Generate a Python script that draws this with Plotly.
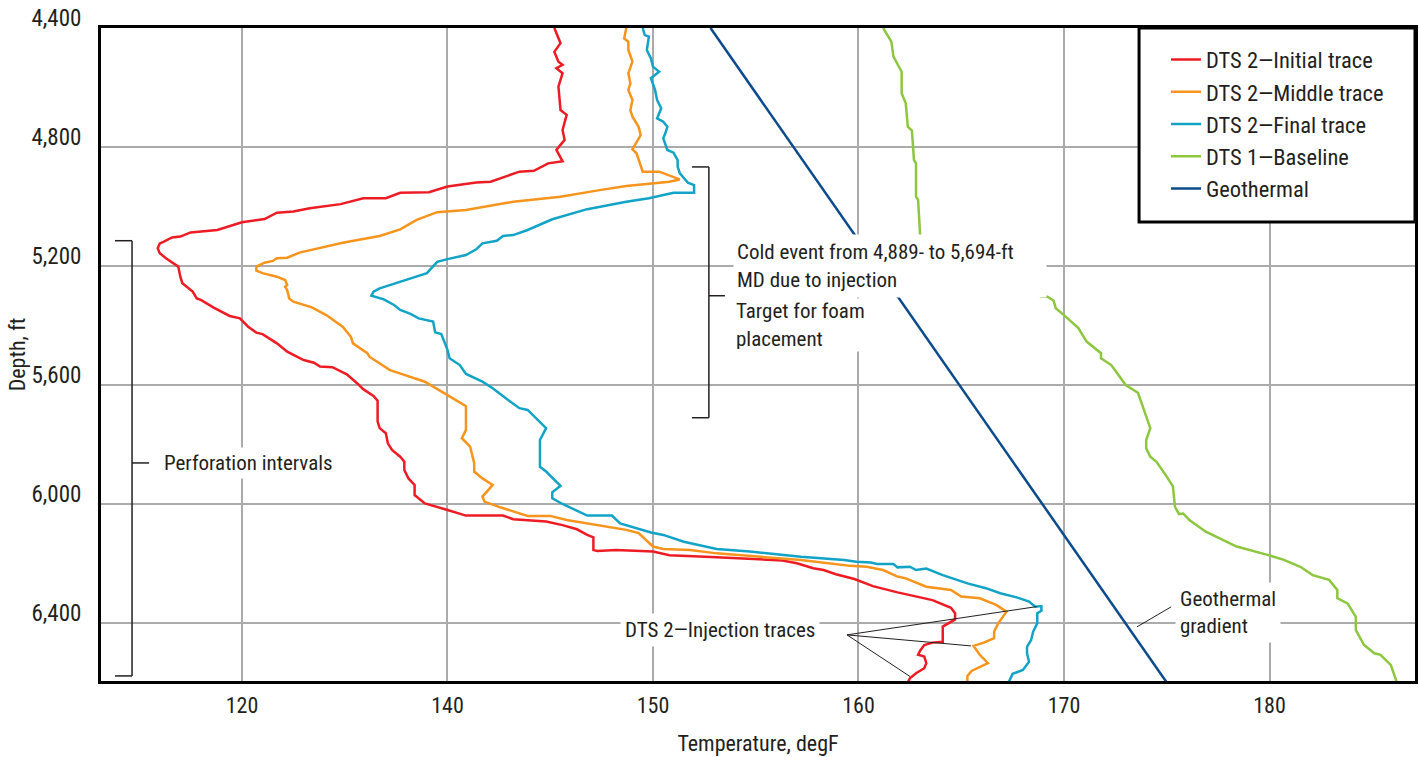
import plotly.graph_objects as go

# ---------------- data ----------------
x_tickvals = [130, 140, 150, 160, 170, 180]
x_ticktext = ["120", "140", "150", "160", "170", "180"]
y_tickvals = [4400, 4800, 5200, 5600, 6000, 6400]

initial_temp = [145.2, 145.5, 145.2, 145.4, 145.6, 145.3, 145.6, 145.4, 145.5, 145.8, 145.6, 145.7,
                145.3, 145.6, 144.9, 144.2, 143.5, 142.1, 141.4, 140.0, 139.1, 137.7, 137.0, 135.9,
                134.8, 133.3, 132.5, 131.7, 131.1, 130.0, 128.8, 127.5, 127.0, 126.6, 126.2, 126.0,
                125.9, 126.0, 126.3, 126.7, 126.9, 127.0, 127.1, 127.6, 127.8, 128.0, 128.6, 129.4,
                129.9, 130.3, 130.7, 131.0, 131.7, 132.2, 133.0, 133.5, 133.8, 134.4, 135.1, 135.6,
                135.9, 136.4, 136.6, 136.6, 136.7, 137.0, 137.1, 137.3, 137.7, 137.9, 137.9, 138.1,
                138.4, 138.4, 138.9, 140.0, 140.9, 142.7, 143.2, 144.8, 145.6, 146.3, 146.8, 147.1,
                147.1, 147.3, 148.2, 150.0, 150.8, 153.1, 156.3, 157.0, 157.8, 158.3, 158.9, 159.8,
                160.7, 161.9, 163.0, 163.6, 164.5, 164.7, 164.7, 164.4, 164.1, 164.1, 164.1, 163.6,
                163.2, 163.0, 162.9, 163.2, 163.3, 163.2, 162.8, 162.5, 162.4]
initial_depth = [4400, 4451, 4480, 4513, 4524, 4535, 4552, 4597, 4676, 4692, 4743, 4776,
                 4810, 4848, 4855, 4880, 4883, 4917, 4919, 4933, 4952, 4954, 4972, 4972,
                 4992, 5006, 5017, 5021, 5042, 5053, 5079, 5087, 5101, 5104, 5118, 5124,
                 5140, 5157, 5174, 5191, 5202, 5236, 5258, 5286, 5309, 5314, 5339, 5368,
                 5376, 5404, 5424, 5429, 5460, 5488, 5516, 5525, 5538, 5540, 5564, 5594,
                 5614, 5637, 5653, 5723, 5745, 5762, 5796, 5818, 5841, 5858, 5886, 5914,
                 5936, 5970, 5998, 6020, 6039, 6039, 6051, 6059, 6071, 6085, 6104, 6112,
                 6155, 6158, 6155, 6160, 6172, 6179, 6190, 6199, 6216, 6222, 6236, 6252,
                 6276, 6297, 6314, 6323, 6349, 6367, 6388, 6401, 6412, 6435, 6463, 6466,
                 6474, 6493, 6507, 6513, 6535, 6552, 6569, 6586, 6600]

middle_temp = [148.7, 148.6, 148.8, 148.8, 149.0, 148.8, 148.9, 148.8, 149.0, 148.9, 149.0, 149.3,
               149.4, 149.2, 149.0, 149.2, 149.5, 150.3, 151.3, 150.8, 148.7, 147.4, 145.5, 143.2,
               140.9, 139.5, 138.5, 137.7, 136.7, 134.9, 133.6, 132.8, 132.2, 131.7, 131.5, 131.1,
               130.7, 130.7, 131.0, 131.7, 132.1, 132.2, 132.1, 132.2, 132.3, 132.5, 133.4, 134.1,
               134.9, 135.3, 135.4, 136.1, 136.2, 137.2, 137.9, 138.9, 140.0, 140.9, 140.9, 140.7,
               141.1, 141.3, 141.3, 141.7, 142.2, 141.7, 141.8, 142.6, 143.9, 145.0, 145.8, 148.7,
               149.3, 150.0, 150.5, 151.8, 153.1, 155.4, 157.2, 159.6, 160.4, 161.2, 161.9, 162.3,
               163.3, 164.5, 165.0, 165.9, 166.7, 167.2, 166.8, 166.6, 166.6, 166.1, 165.6, 165.9,
               166.3, 165.5, 165.3, 165.3]
middle_depth = [4400, 4435, 4446, 4474, 4513, 4552, 4586, 4608, 4642, 4676, 4698, 4732,
                4760, 4782, 4808, 4821, 4883, 4883, 4909, 4917, 4931, 4945, 4967, 4984,
                5012, 5019, 5045, 5077, 5099, 5122, 5144, 5155, 5172, 5174, 5183, 5189,
                5202, 5216, 5224, 5236, 5247, 5264, 5270, 5281, 5309, 5320, 5339, 5365,
                5404, 5438, 5460, 5493, 5505, 5550, 5566, 5589, 5634, 5671, 5751, 5779,
                5807, 5863, 5891, 5914, 5936, 5975, 5992, 6012, 6040, 6040, 6054, 6087,
                6098, 6143, 6151, 6155, 6166, 6177, 6188, 6208, 6211, 6222, 6244, 6250,
                6278, 6289, 6311, 6317, 6339, 6362, 6401, 6429, 6451, 6466, 6477, 6507,
                6535, 6561, 6578, 6600]

final_temp = [149.5, 149.6, 149.8, 149.7, 149.9, 150.0, 150.3, 149.9, 150.1, 150.2, 150.4, 150.2,
              150.5, 150.7, 150.6, 150.5, 150.7, 151.0, 151.2, 151.2, 151.3, 151.7, 152.0, 152.0,
              151.0, 149.8, 148.7, 146.8, 145.1, 143.9, 143.2, 142.7, 142.4, 141.7, 141.4, 140.9,
              140.0, 139.5, 139.0, 137.7, 136.7, 136.4, 136.3, 136.9, 137.4, 137.7, 138.2, 138.6,
              139.3, 139.4, 139.7, 140.0, 140.1, 140.6, 140.9, 141.7, 142.2, 143.0, 143.5, 143.9,
              144.5, 144.8, 144.5, 144.5, 144.8, 145.5, 145.1, 145.1, 145.6, 146.8, 148.0, 148.4,
              149.9, 150.5, 151.5, 153.1, 154.7, 157.2, 159.3, 159.9, 160.6, 160.9, 161.7, 161.9,
              162.5, 162.8, 163.3, 164.1, 165.3, 166.2, 166.9, 167.7, 168.3, 168.6, 168.9, 168.9,
              168.7, 168.7, 168.5, 168.4, 168.2, 168.2, 168.3, 168.0, 167.5, 167.3]
final_depth = [4400, 4424, 4429, 4474, 4502, 4530, 4547, 4569, 4608, 4642, 4670, 4704,
               4715, 4732, 4754, 4771, 4810, 4819, 4844, 4866, 4888, 4920, 4928, 4954,
               4954, 4972, 4984, 5009, 5043, 5079, 5096, 5099, 5115, 5124, 5144, 5163,
               5177, 5186, 5224, 5254, 5275, 5286, 5300, 5312, 5331, 5348, 5361, 5376,
               5387, 5423, 5429, 5482, 5510, 5533, 5563, 5589, 5611, 5653, 5678, 5684,
               5723, 5745, 5785, 5875, 5891, 5939, 5961, 5981, 6000, 6039, 6039, 6065,
               6096, 6104, 6127, 6151, 6160, 6177, 6188, 6194, 6197, 6202, 6202, 6213,
               6211, 6222, 6217, 6239, 6267, 6283, 6300, 6314, 6328, 6345, 6343, 6359,
               6367, 6401, 6429, 6457, 6480, 6502, 6530, 6558, 6571, 6600]

baseline_temp = [161.2, 161.6, 161.7, 162.1, 162.1, 162.3, 162.4, 162.6, 162.7, 162.8, 162.8, 162.9,
                 163.0, 163.0, 168.9, 169.2, 169.5, 169.6, 170.0, 170.7, 171.1, 171.6, 171.8, 171.8,
                 172.3, 172.6, 173.0, 173.6, 174.1, 174.2, 174.0, 174.0, 174.2, 174.5, 175.0, 175.3,
                 175.4, 175.6, 175.8, 176.1, 176.9, 178.4, 179.9, 180.7, 181.5, 182.1, 182.9, 183.3,
                 183.3, 183.8, 184.2, 184.2, 184.6, 185.1, 185.4, 185.9, 186.2]
baseline_depth = [4400, 4446, 4496, 4547, 4619, 4653, 4732, 4745, 4844, 4855, 4967, 4978,
                  5096, 5113, 5303, 5303, 5317, 5342, 5365, 5409, 5454, 5482, 5493, 5510,
                  5533, 5561, 5600, 5626, 5723, 5745, 5785, 5813, 5841, 5858, 5908, 5941,
                  6010, 6034, 6032, 6054, 6093, 6143, 6171, 6188, 6211, 6239, 6255, 6289,
                  6317, 6334, 6379, 6423, 6474, 6502, 6507, 6541, 6600]

geothermal_temp = [152.8, 175.0]
geothermal_depth = [4400, 6600]

# ---------------- styling ----------------
FONT = "Liberation Sans Narrow, Arial Narrow, Roboto Condensed, Liberation Sans, sans-serif"
INK = "#231f20"
GRID = "#ababab"

series = [
    ("DTS 2\u2014Initial trace", initial_temp, initial_depth, "#ed1c24"),
    ("DTS 2\u2014Middle trace", middle_temp, middle_depth, "#f7941d"),
    ("DTS 2\u2014Final trace", final_temp, final_depth, "#12a3c6"),
    ("DTS 1\u2014Baseline", baseline_temp, baseline_depth, "#8dc63f"),
    ("Geothermal", geothermal_temp, geothermal_depth, "#0b4a8b"),
]

fig = go.Figure()
for i, (name, t, d, col) in enumerate(series):
    fig.add_trace(go.Scatter(x=t, y=d, mode="lines", name=name, legendgroup=f"g{i}",
                             line=dict(color=col, width=2.5), hoverinfo="skip"))

fig.update_layout(
    width=1419, height=757,
    margin=dict(l=101, r=4, t=28, b=76, autoexpand=False),
    paper_bgcolor="white", plot_bgcolor="white",
    font=dict(family=FONT, color=INK, size=20),
    showlegend=True,
    legend=dict(x=0.8105, y=0.984, xanchor="left", yanchor="top",
                bgcolor="rgba(0,0,0,0)", borderwidth=0,
                font=dict(family=FONT, size=22.5, color=INK),
                tracegroupgap=0, itemwidth=30),
)

fig.update_xaxes(
    range=[123.14, 187.08], tickvals=x_tickvals, ticktext=x_ticktext,
    showgrid=True, gridcolor=GRID, gridwidth=1.5, zeroline=False,
    showline=True, linecolor="black", linewidth=3, mirror=True, automargin=False,
    ticks="", ticklabelstandoff=3,
    tickfont=dict(family=FONT, size=22, color=INK),
    title=dict(text="Temperature, degF", font=dict(family=FONT, size=22, color=INK), standoff=19),
)
fig.update_yaxes(
    range=[6595, 4400], tickvals=y_tickvals, tickformat=",",
    showgrid=True, gridcolor=GRID, gridwidth=1.5, zeroline=False,
    showline=True, linecolor="black", linewidth=3, mirror=True, automargin=False,
    ticks="", ticklabelstandoff=12, ticklabelshift=10,
    tickfont=dict(family=FONT, size=23, color=INK),
    title=dict(text="Depth, ft", font=dict(family=FONT, size=22, color=INK), standoff=0),
)

# legend frame
fig.add_shape(type="rect", xref="paper", yref="paper", x0=0.790, x1=1.0, y0=0.703, y1=1.0,
              line=dict(color="black", width=3), fillcolor="white", layer="above")

def seg(x0, y0, x1, y1, w=1.5):
    fig.add_shape(type="line", xref="x", yref="y", x0=x0, y0=y0, x1=x1, y1=y1,
                  line=dict(color=INK, width=w), layer="above")

# perforation bracket
seg(124.65, 5115, 124.65, 6578)
seg(123.82, 5115, 124.65, 5115)
seg(123.82, 6578, 124.65, 6578)
seg(124.65, 5862, 125.48, 5862)
# cold event bracket
seg(152.72, 4867, 152.72, 5710)
seg(151.90, 4867, 152.72, 4867)
seg(151.90, 5710, 152.72, 5710)
seg(152.72, 5300, 153.50, 5300)
# leaders
seg(173.55, 6413, 175.21, 6346, 1)
seg(159.44, 6440, 168.67, 6345, 1)
seg(159.44, 6440, 165.47, 6477, 1)
seg(159.44, 6440, 162.51, 6580, 1)

def note(text, x, y, **kw):
    fig.add_annotation(text=text, x=x, y=y, xref="x", yref="y", showarrow=False,
                       xanchor="left", yanchor="middle", align="left", bgcolor="white",
                       font=dict(family=FONT, size=21, color=INK), **kw)

note("Perforation intervals", 126.0, 5862, borderpad=3)
note("Cold event from 4,889- to 5,694-ft<br>MD due to injection", 153.89, 5200,
     width=306, height=56, borderpad=3)
note("Target for foam<br>placement", 153.89, 5400, width=136, height=48, borderpad=2)
note("Geothermal<br>gradient", 175.4, 6366, borderpad=4)
note("DTS 2\u2014Injection traces", 148.4, 6423, borderpad=4)

fig.write_html("out.html", config={"displayModeBar": False},
               post_script="document.body.style.margin='0';document.body.style.overflow='hidden';")
